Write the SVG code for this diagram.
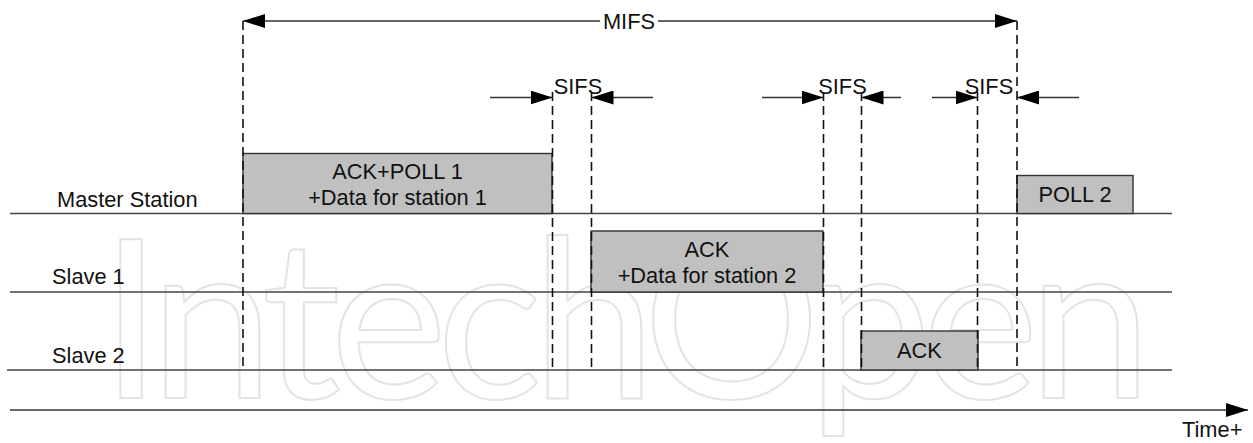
<svg xmlns="http://www.w3.org/2000/svg" width="1253" height="443" viewBox="0 0 1253 443">
<style>
text{font-family:"Liberation Sans",Arial,sans-serif;font-size:21.8px;fill:#111}
.c{text-anchor:middle}
.lane{stroke:#444;stroke-width:1.5}
.dash{stroke:#111;stroke-width:1.6;stroke-dasharray:9 5;fill:none}
.arr{stroke:#333;stroke-width:1.3;fill:none}
.box rect{fill:#c0c0c0;stroke:#333;stroke-width:1.4}
.wm{font-family:Lato,"Noto Sans",sans-serif;font-size:222px;fill:none;stroke:#e4e4e4;stroke-width:2}
</style>
<defs>
<marker id="ah" viewBox="0 0 22 14" refX="22" refY="7" markerWidth="22" markerHeight="14" markerUnits="userSpaceOnUse" orient="auto">
<path d="M0,0 L22,7 L0,14 Z" fill="#000"/>
</marker>
</defs>
<text class="wm" x="100" y="398" textLength="1052" lengthAdjust="spacing">IntechOpen</text>
<g id="lanes">
<line class="lane" x1="10" y1="213.5" x2="1172" y2="213.5"/>
<line class="lane" x1="10" y1="292" x2="1172" y2="292"/>
<line class="lane" x1="7" y1="370" x2="1172" y2="370"/>
</g>
<g id="label-master"><text x="57" y="206.5">Master Station</text></g>
<g id="label-slave1"><text x="52" y="284">Slave 1</text></g>
<g id="label-slave2"><text x="52" y="363">Slave 2</text></g>
<g id="box-ackpoll1" class="box">
<rect x="243" y="153.5" width="309" height="60"/>
<text class="c" x="397.5" y="179">ACK+POLL 1</text>
<text class="c" x="397.5" y="205">+Data for station 1</text>
</g>
<g id="box-ackdata2" class="box">
<rect x="591" y="231" width="232" height="61"/>
<text class="c" x="707" y="257">ACK</text>
<text class="c" x="707" y="283">+Data for station 2</text>
</g>
<g id="box-ack" class="box">
<rect x="861" y="331" width="117" height="39"/>
<text class="c" x="919.5" y="358">ACK</text>
</g>
<g id="box-poll2" class="box">
<rect x="1017" y="175.5" width="116" height="38"/>
<text class="c" x="1075" y="202">POLL 2</text>
</g>
<g id="connectors">
<line class="dash" x1="243" y1="21" x2="243" y2="370"/>
<line class="dash" x1="1017" y1="21" x2="1017" y2="370"/>
<line class="dash" x1="552.5" y1="92" x2="552.5" y2="370"/>
<line class="dash" x1="591.5" y1="92" x2="591.5" y2="370"/>
<line class="dash" x1="823.5" y1="92" x2="823.5" y2="370"/>
<line class="dash" x1="861.5" y1="92" x2="861.5" y2="370"/>
<line class="dash" x1="977.5" y1="92" x2="977.5" y2="370"/>
<line class="arr" x1="600" y1="21" x2="243" y2="21" marker-end="url(#ah)"/>
<line class="arr" x1="658" y1="21" x2="1017" y2="21" marker-end="url(#ah)"/>
<line class="arr" x1="490" y1="97.5" x2="552.5" y2="97.5" marker-end="url(#ah)"/>
<line class="arr" x1="653" y1="97.5" x2="591.5" y2="97.5" marker-end="url(#ah)"/>
<line class="arr" x1="762" y1="97.5" x2="823.5" y2="97.5" marker-end="url(#ah)"/>
<line class="arr" x1="901" y1="97.5" x2="861.5" y2="97.5" marker-end="url(#ah)"/>
<line class="arr" x1="932" y1="97.5" x2="977.5" y2="97.5" marker-end="url(#ah)"/>
<line class="arr" x1="1079" y1="97.5" x2="1017" y2="97.5" marker-end="url(#ah)"/>
<line class="arr" x1="10" y1="410" x2="1248" y2="410" marker-end="url(#ah)"/>
</g>
<g id="label-mifs"><text class="c" x="629" y="28.5">MIFS</text></g>
<g id="label-sifs1"><text class="c" x="578" y="94">SIFS</text></g>
<g id="label-sifs2"><text class="c" x="842.5" y="94">SIFS</text></g>
<g id="label-sifs3"><text class="c" x="989" y="94">SIFS</text></g>
<g id="label-time"><text x="1182" y="436.5">Time+</text></g>
</svg>
